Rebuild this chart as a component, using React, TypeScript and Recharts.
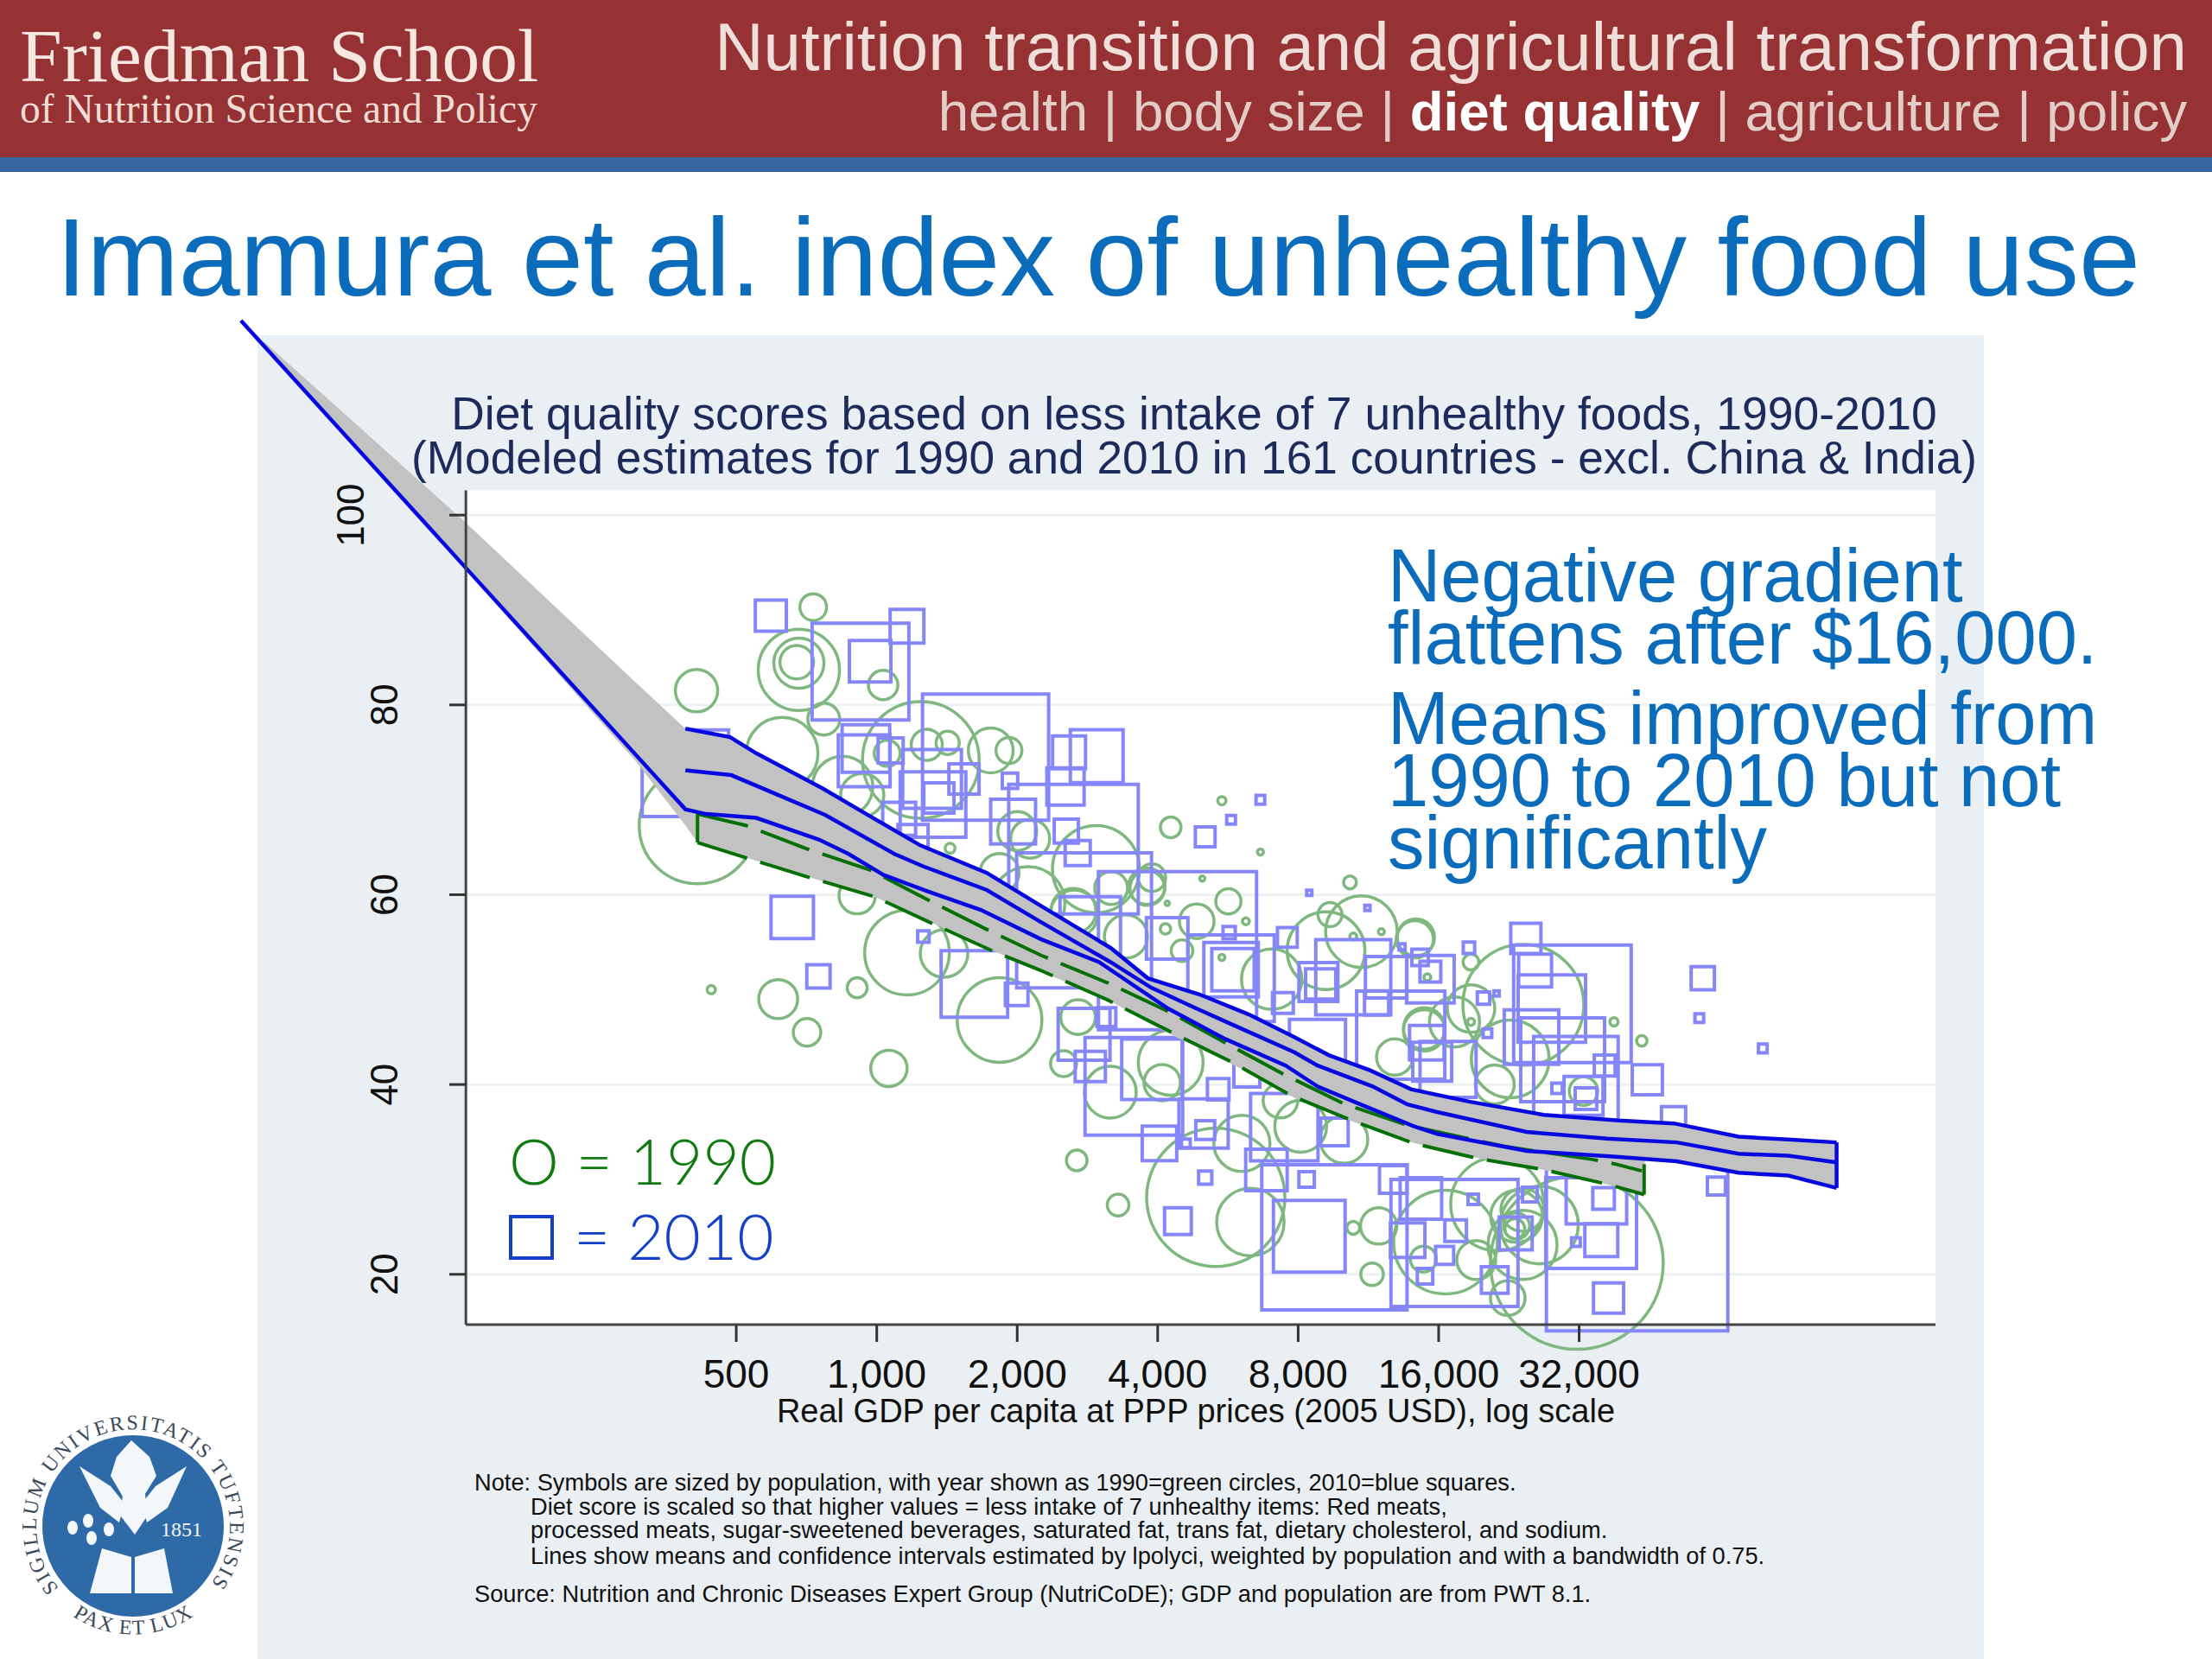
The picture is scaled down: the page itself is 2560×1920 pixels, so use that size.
import React from "react"
import {
  ComposedChart,
  Area,
  Line,
  Scatter,
  XAxis,
  YAxis,
  ZAxis,
  ReferenceArea,
  ReferenceLine,
  Label,
} from "recharts"

// gdp, diet score, population (millions)
const squares2010 = [
  [593,89.4,8.9],[923,83.5,86.5],[1161,88.3,10.5],[968,84.6,15.9],[389,72.8,69],[1711,74.5,147],[948,75.4,20.9],[940,74.1,24.8],
  [1071,75.2,5.8],[1314,72.2,31.9],[1538,72.2,8.4],[1320,69.5,39.8],[1359,70.2,8.4],[1117,68,10],[1196,65.8,8.4],[1930,72,2.2],
  [1960,67.7,18.6],[2538,71.4,12.8],[2583,75,10],[2961,74.6,25.7],[2640,64.8,155],[2782,57.3,168],[2548,66.7,5.4],[2696,64.4,5.8],
  [2868,56.6,33.8],[4411,54.1,231],[4192,55.4,15.9],[5745,51.2,69],[5745,52.1,27.4],[5800,52.1,16.6],[5057,66.1,3.6],[5745,67.9,0.7],
  [6640,70,0.7],[7584,55.5,3.6],[5690,56,1.4],[10500,51.3,52],[8840,50.8,14],[8940,50.6,8.4],[12350,51.3,15.9],[14600,53.4,2.5],
  [15360,51.9,4],[13270,45.2,71.8],[7420,48.6,4],[8800,43.9,29],[11780,48.6,5.4],[15090,44.4,11],[15500,42.4,14],[2782,45.3,24.8],
  [3105,47.1,3.3],[2868,41.9,8.4],[3556,39.8,88],[3888,41.6,33.8],[5016,35.9,22.4],[5392,39.5,4.3],[5057,35.2,3.3],[4035,33.8,11],
  [4597,33.8,0.7],[5057,30.2,1.6],[4420,25.6,6.6],[9566,23.9,195],[8450,24,47.5],[6840,31,15.9],[8340,30,2.2],[7470,35.5,42],
  [6210,41.1,6.2],[9566,35,7],[12790,30,7],[17300,23.3,149],[14660,28,15.9],[13730,23.6,11],[17400,24.6,4.3],[16480,22,3],
  [14960,19.8,2.2],[21100,19.4,6.6],[23400,24.3,10],[18980,27.9,1],[25100,28.4,2],[31500,23.4,0.7],[35700,23.6,10],[33960,25.4,76],
  [34850,28.5,33.8],[36100,28,4.3],[37000,17.5,8.4],[42600,23.6,304],[63000,29.3,3],[51000,36.4,5.4],[58900,51.2,5],[57900,47,0.7],
  [79200,43.8,0.7],[44800,40.5,8.4],[24600,55.4,8.4],[30960,48.5,127.6],[25750,52,10],[27970,48,42],[25300,45,27.4],[29500,42.6,65],
  [31500,40.6,66],[36300,42,4],[32700,38.8,14],[33100,38.5,4.3],[28700,39.6,1],[19960,49.1,1.4],[20350,45.4,0.7],[18580,54.4,1.2],
  [16760,41.6,29],[15360,51.1,20.9],[659,57.6,16.6],[750,51.4,5],[1259,55.6,1.2],[1619,50.6,40.9],[1995,49.5,4.7],[8450,60.2,0.25],
  [11260,58.6,0.25],[13360,54.5,0.34],[21300,49.6,0.25],
]

const circles1990 = [
  [411,81.5,13],[731,90.3,5.2],[681,83.7,47.9],[681,84.4,18.2],[674,84.5,8.2],[1032,82.1,6.3],[770,78.5,7.4],[627,74.9,37.3],
  [413,67.3,98.7],[1243,74.2,98.7],[1755,75.2,14.6],[1920,75.2,4.9],[1280,75.8,7],[1419,76,3.9],[845,71.4,26.5],[931,70.5,13.5],
  [1053,74.9,4.9],[908,59.9,9.6],[1161,53.9,52],[908,50.2,2.9],[1394,53.8,16.4],[1833,46.8,52],[442,50,0.5],[615,49,11],
  [709,45.5,5.5],[1062,41.7,9.6],[2950,62.7,55],[2112,59.1,39],[1833,62.3,11],[3792,60.9,9.6],[2650,58,16.4],[3420,55.6,13.5],
  [2000,66.7,11],[2132,65.9,11],[1436,64.9,0.7],[3166,39.2,19.5],[2514,42.2,4.9],[2683,32,3.1],[3290,27.3,3.4],[5327,28.1,138.7],
  [6320,25.5,33],[6060,33.8,22.9],[7330,38.3,8.7],[10500,24.9,1.2],[11900,25.1,9.6],[11520,20,3.7],[8100,35.6,19.5],[10030,34.2,16.4],
  [4265,67.1,3.1],[5490,69.9,0.5],[6640,64.5,0.27],[10330,61.3,1.2],[4985,61.7,0.2],[4192,59.1,0.14],[5670,59.3,4.6],[4850,57.2,8.7],
  [6180,57.2,0.35],[2640,58.3,14.6],[3180,60.7,7.8],[3800,60.7,8.7],[3888,61.8,5.5],[4156,56.4,0.8],[4510,54.1,3.4],[5490,53.4,0.27],
  [7020,51.1,26.5],[9180,54.1,43.9],[10930,56.1,37.3],[9360,57.9,4.2],[14230,55.3,10],[12060,56.1,0.27],[10500,55.6,0.35],[12880,42.9,9.6],
  [14900,45.9,12.5],[4090,40.2,9.6],[4265,42.3,30.5],[2700,47.1,8.7],[18770,48,16.4],[14300,55.5,10],[24300,48.4,106],[17300,46.6,18.2],
  [14900,45.7,12.5],[22780,42.7,43.9],[21100,40,11],[32700,39.3,5.9],[43600,44.6,0.8],[38000,46.6,0.5],[18770,46.6,0.35],[15130,51.3,0.35],
  [31640,21.2,216.7],[24200,23.1,34.7],[16550,23.4,78],[21370,27.4,63],[23500,26.1,19.5],[26300,25.2,43.9],[19260,21.5,11],[14840,21.6,4.9],
  [22500,17.5,8.7],[23300,24.8,2.9],[18770,52.9,1.8],[24200,26.8,13.5],[23500,25.1,4.9],
]

const blueUpper = [
  [389,77.5],[485,76.6],[552,74.9],[766,71.2],[989,68],[1240,65.2],[1721,62.3],[2252,58.8],[3170,54.4],[3808,51.2],[4910,49.5],
  [6260,47.4],[7850,45],[9300,43.1],[11400,41.5],[13960,39.5],[18580,38.2],[26880,36.8],[38880,36.2],[51100,35.9],[70300,34.5],[89800,34.2],[114000,33.9],
]
const blueMean = [
  [389,73.1],[488,72.6],[776,68.4],[1091,64.3],[1256,63],[1721,60.5],[2252,57.1],[3170,52.9],[3875,50.2],[4847,48],[5910,46.1],
  [7850,43.4],[8800,42],[11550,39.8],[13720,37.9],[15880,37.1],[24700,35],[36750,34.3],[51800,33.9],[70300,32.7],[89800,32.5],[114000,31.8],
]
const blueLower = [
  [43.4,120.5],[389,69],[431,68.5],[552,68.1],[753,65.8],[870,64.3],[1032,62.1],[1294,60.3],[1671,58.4],[2252,55.3],[2996,52.9],
  [4213,48],[5580,44.8],[7520,42],[8800,39.8],[10770,38],[14140,35.6],[15880,34.8],[24700,33],[37900,32.4],[51800,31.9],[70300,30.7],[89800,30.4],[114000,29.1],
]
const blueCap = [[114000,33.9],[114000,29.1]]
const greenMean = [
  [413,68.5],[524,67.3],[712,64.8],[968,62.6],[1305,59.3],[1744,56.2],[2252,53.6],[3129,50.7],[4213,47.7],[5580,44.4],[7430,41.1],
  [10000,38],[13720,35.7],[22020,33.5],[34200,32.1],[38380,31.6],[43600,30.9],
]
const greenLower = [
  [413,65.5],[524,63.9],[718,61.8],[989,59.8],[1310,57],[1766,54.1],[2252,52],[3129,48.9],[4323,45.4],[5750,42.4],[7750,38.8],
  [10440,36.2],[14140,33.8],[19400,32.2],[26420,31.1],[36750,29.5],[44100,28.4],
]
const greenCapLeft = [[413,68.5],[413,65.5]]
const greenCapRight = [[44100,31.6],[44100,28.4]]

// gdp, low, high
const ciBand = [
  [48.6,117.9,118.3],[131.7,94.2,99.2],[304,74.1,82.4],[389,67.3,77.5],[413,65.5,77.2],[485,64.4,76.6],[552,63.6,74.9],[766,61.4,71.2],
  [989,59.8,68],[1240,57.6,65.2],[1721,54.4,62.3],[2252,51.9,58.8],[3170,48.8,54.4],[3808,46.5,51.2],[4910,43.8,49.5],[6260,41.3,47.4],
  [7850,38.6,45],[9300,37.1,43.1],[11400,35.4,41.5],[13960,33.9,39.5],[18580,32.4,38.2],[26880,31,36.8],[38880,29.2,36.2],[44100,28.4,36.1],
  [44300,32.2,36.1],[51100,32,35.9],[70300,30.7,34.5],[89800,30.4,34.2],[114000,29.1,33.9],
]

const xTicks = [500, 1000, 2000, 4000, 8000, 16000, 32000]
const yTicks = [20, 40, 60, 80, 100]

const X_MIN = 41.8
const X_MAX = 185700
const Y_MIN = 14.7
const Y_MAX = 121.5
const AXIS_X = 131.7
const PLOT_TOP = 102.6

const SANS = '"Liberation Sans", Arial, sans-serif'
const SERIF = '"Liberation Serif", serif'
const BLUE_TEXT = "#0a6cba"

const toLine = (rows: number[][]) => rows.map(([gdp, score]) => ({ gdp, score }))
const toBubble = (rows: number[][]) => rows.map(([gdp, score, pop]) => ({ gdp, score, pop }))
const bandData = ciBand.map(([gdp, lo, hi]) => ({ gdp, range: [lo, hi] }))

function Txt({ x, y, size, color, sx = 1, align = "left", font = SANS, weight = 400, children }: any) {
  const tx = align === "center" ? "-50%" : "0"
  const style: React.CSSProperties = {
    position: "absolute",
    top: y,
    fontFamily: font,
    fontSize: size,
    fontWeight: weight,
    color,
    lineHeight: 1,
    whiteSpace: "pre",
    transform: `translate(${tx}, -50%) scaleX(${sx})`,
    transformOrigin: align === "center" ? "center" : align,
  }
  if (align === "right") style.right = 2560 - x
  else style.left = x
  return <div style={style}>{children}</div>
}

function YTick({ y, payload }: any) {
  const labelX = payload.value === 100 ? 421 : 460
  return (
    <g>
      <line x1={520} x2={539} y1={y} y2={y} stroke="#333" strokeWidth={3} />
      <text
        transform={`rotate(-90 ${labelX} ${y})`}
        x={labelX}
        y={y}
        textAnchor="middle"
        fontFamily={SANS}
        fontSize={44}
        fill="#111"
      >
        {payload.value}
      </text>
    </g>
  )
}

function Seal() {
  const white = "#f4f7fa"
  return (
    <svg style={{ position: "absolute", left: 10, top: 1620, width: 300, height: 290 }} viewBox="0 0 300 290">
      <defs>
        <path id="sealTop" d="M 58 218 A 112 112 0 1 1 230 218" />
        <path id="sealBottom" d="M 63 242 A 126 126 0 0 0 225 242" />
      </defs>
      <circle cx={144} cy={146} r={105} fill="#2e6aa8" />
      <text fontFamily={SERIF} fontSize={24} fill="#3a4a5a">
        <textPath href="#sealTop" textLength={500}>SIGILLUM UNIVERSITATIS TUFTENSIS</textPath>
      </text>
      <text fontFamily={SERIF} fontSize={24} fill="#3a4a5a">
        <textPath href="#sealBottom" startOffset={14} textLength={148}>PAX ET LUX</textPath>
      </text>
      <path d="M118 88 L125 66 L142 47 L163 66 L171 88 L156 112 L132 112 Z" fill={white} />
      <path d="M82 77 L118 100 L134 120 L128 142 L106 125 Z" fill={white} />
      <path d="M206 77 L170 100 L154 120 L160 142 L184 125 Z" fill={white} />
      <path d="M132 108 L158 108 L160 135 L146 156 L130 135 Z" fill={white} />
      <path d="M108 172 L142 182 L142 224 L94 224 Z M146 182 L180 172 L190 224 L146 224 Z" fill={white} />
      <ellipse cx={74} cy={148} rx={6} ry={8} fill={white} />
      <ellipse cx={92} cy={140} rx={6} ry={8} fill={white} />
      <ellipse cx={96} cy={160} rx={6} ry={8} fill={white} />
      <ellipse cx={116} cy={150} rx={6} ry={8} fill={white} />
      <text x={176} y={158} fontFamily={SERIF} fontSize={24} fill={white}>1851</text>
    </svg>
  )
}

export default function App() {
  return (
    <div style={{ position: "absolute", left: 0, top: 0, width: 2560, height: 1920, overflow: "hidden", background: "#fff" }}>
      <div style={{ position: "absolute", left: 0, top: 0, width: 2560, height: 182, background: "#963234" }} />
      <div style={{ position: "absolute", left: 0, top: 182, width: 2560, height: 17, background: "#36659f" }} />
      <div style={{ position: "absolute", left: 298, top: 388, width: 1998, height: 1532, background: "#e9eff3" }} />

      <Txt x={23} y={65} size={87.5} color="#f6e8e0" font={SERIF}>Friedman School</Txt>
      <Txt x={23} y={127} size={47.5} color="#efdcd4" font={SERIF}>of Nutrition Science and Policy</Txt>
      <Txt x={2531} y={54} size={78} color="#efdfda" align="right">Nutrition transition and agricultural transformation</Txt>
      <Txt x={2531} y={129} size={63} color="#e2cdc8" align="right" sx={1.01}>
        {"health | body size | "}<span style={{ fontWeight: 700, color: "#fff" }}>diet quality</span>{" | agriculture | policy"}
      </Txt>
      <Txt x={65} y={298} size={128} color={BLUE_TEXT} sx={0.997}>Imamura et al. index of unhealthy food use</Txt>

      <Txt x={1382} y={478} size={53} color="#1d2a5c" align="center" sx={1.008}>Diet quality scores based on less intake of 7 unhealthy foods, 1990-2010</Txt>
      <Txt x={1382} y={529} size={53} color="#1d2a5c" align="center" sx={1.005}>(Modeled estimates for 1990 and 2010 in 161 countries - excl. China &amp; India)</Txt>

      <div style={{ position: "absolute", left: 0, top: 0 }}>
        <ComposedChart width={2560} height={1920} margin={{ top: 360, right: 320, bottom: 327, left: 269 }}>
          <XAxis
            type="number"
            dataKey="gdp"
            scale="log"
            domain={[X_MIN, X_MAX]}
            ticks={xTicks}
            interval={0}
            height={60}
            axisLine={false}
            tickSize={20}
            tickMargin={20}
            tickLine={{ stroke: "#333", strokeWidth: 3 }}
            tick={{ fontFamily: SANS, fontSize: 46, fill: "#111" }}
            tickFormatter={(v: number) => v.toLocaleString("en-US")}
          >
            <Label
              value="Real GDP per capita at PPP prices (2005 USD), log scale"
              position="insideBottom"
              dx={129}
              dy={58}
              style={{ fontFamily: SANS, fontSize: 38, fill: "#111" }}
            />
          </XAxis>
          <YAxis
            type="number"
            domain={[Y_MIN, Y_MAX]}
            ticks={yTicks}
            interval={0}
            width={1}
            axisLine={false}
            tickLine={false}
            tick={(props: any) => <YTick {...props} />}
          />
          <ZAxis type="number" dataKey="pop" domain={[0, 400]} range={[0, 58000]} />
          <ReferenceArea zIndex={10} x1={AXIS_X} x2={X_MAX} y1={Y_MIN} y2={PLOT_TOP} fill="#fff" fillOpacity={1} stroke="none" />
          {yTicks.map((t) => (
            <ReferenceLine key={t} zIndex={20} segment={[{ x: AXIS_X, y: t }, { x: X_MAX, y: t }]} stroke="#eef1f2" strokeWidth={3} />
          ))}
          <Scatter zIndex={30} data={toBubble(circles1990)} dataKey="score" shape="circle" fill="none" stroke="#7fb87f" strokeWidth={3.5} isAnimationActive={false} />
          <Scatter zIndex={31} data={toBubble(squares2010)} dataKey="score" shape="square" fill="none" stroke="#8686fb" strokeWidth={4} isAnimationActive={false} />
          <Area zIndex={40} data={bandData} dataKey="range" type="linear" fill="#c2c2c2" fillOpacity={1} stroke="none" dot={false} activeDot={false} isAnimationActive={false} />
          <Line zIndex={50} data={toLine(greenMean)} dataKey="score" type="linear" stroke="#067006" strokeWidth={4} strokeDasharray="60 16" dot={false} isAnimationActive={false} />
          <Line zIndex={50} data={toLine(greenLower)} dataKey="score" type="linear" stroke="#067006" strokeWidth={4} strokeDasharray="60 16" dot={false} isAnimationActive={false} />
          <Line zIndex={50} data={toLine(greenCapLeft)} dataKey="score" type="linear" stroke="#067006" strokeWidth={4} dot={false} isAnimationActive={false} />
          <Line zIndex={50} data={toLine(greenCapRight)} dataKey="score" type="linear" stroke="#067006" strokeWidth={4} dot={false} isAnimationActive={false} />
          <Line zIndex={51} data={toLine(blueUpper)} dataKey="score" type="linear" stroke="#0808e0" strokeWidth={4.5} dot={false} isAnimationActive={false} />
          <Line zIndex={51} data={toLine(blueMean)} dataKey="score" type="linear" stroke="#0808e0" strokeWidth={4.5} dot={false} isAnimationActive={false} />
          <Line zIndex={51} data={toLine(blueLower)} dataKey="score" type="linear" stroke="#0808e0" strokeWidth={4.5} dot={false} isAnimationActive={false} />
          <Line zIndex={51} data={toLine(blueCap)} dataKey="score" type="linear" stroke="#0808e0" strokeWidth={4.5} dot={false} isAnimationActive={false} />
          <ReferenceLine zIndex={60} segment={[{ x: AXIS_X, y: Y_MIN }, { x: AXIS_X, y: PLOT_TOP }]} stroke="#444" strokeWidth={3} />
          <ReferenceLine zIndex={60} segment={[{ x: AXIS_X, y: Y_MIN }, { x: X_MAX, y: Y_MIN }]} stroke="#444" strokeWidth={3} />
        </ComposedChart>
      </div>

      <Txt x={1606} y={666} size={88} color={BLUE_TEXT} sx={0.965}>Negative gradient</Txt>
      <Txt x={1606} y={738} size={88} color={BLUE_TEXT} sx={0.965}>flattens after $16,000.</Txt>
      <Txt x={1606} y={831} size={88} color={BLUE_TEXT} sx={0.965}>Means improved from</Txt>
      <Txt x={1606} y={903} size={88} color={BLUE_TEXT} sx={0.965}>1990 to 2010 but not</Txt>
      <Txt x={1606} y={975} size={88} color={BLUE_TEXT} sx={0.965}>significantly</Txt>

      <Txt x={589} y={1343} size={73} color="#0f7a0f" font="Lato" weight={300}>O = 1990</Txt>
      <div style={{ position: "absolute", left: 589, top: 1406, width: 44, height: 44, border: "4px solid #1440c8" }} />
      <Txt x={664} y={1430} size={73} color="#1440c8" font="Lato" weight={300}>= 2010</Txt>

      <Txt x={549} y={1716} size={28} color="#111" sx={0.973}>Note: Symbols are sized by population, with year shown as 1990=green circles, 2010=blue squares.</Txt>
      <Txt x={614} y={1744} size={28} color="#111" sx={0.973}>Diet score is scaled so that higher values = less intake of 7 unhealthy items: Red meats,</Txt>
      <Txt x={614} y={1771} size={28} color="#111" sx={0.973}>processed meats, sugar-sweetened beverages, saturated fat, trans fat, dietary cholesterol, and sodium.</Txt>
      <Txt x={614} y={1801} size={28} color="#111" sx={0.973}>Lines show means and confidence intervals estimated by lpolyci, weighted by population and with a bandwidth of 0.75.</Txt>
      <Txt x={549} y={1845} size={28} color="#111" sx={0.973}>Source: Nutrition and Chronic Diseases Expert Group (NutriCoDE); GDP and population are from PWT 8.1.</Txt>

      <Seal />
    </div>
  )
}
